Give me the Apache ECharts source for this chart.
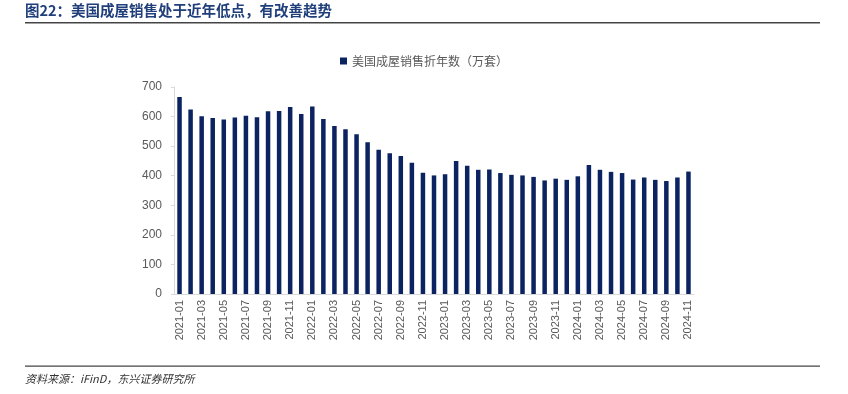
<!DOCTYPE html>
<html>
<head>
<meta charset="utf-8">
<script src="https://cdn.jsdelivr.net/npm/echarts@6/dist/echarts.min.js"></script>
<style>html,body{margin:0;padding:0;background:#fff;}#c{width:848px;height:394px;}</style>
</head>
<body>
<div id="c"></div>
<script>
const categories = [];
for (let y = 2021; y <= 2024; y++) {
  for (let m = 1; m <= 12; m++) {
    if (y === 2024 && m > 11) break;
    categories.push(y + '-' + (m < 10 ? '0' + m : m));
  }
}
const seriesName = '美国成屋销售折年数（万套）';
const salesValues = [
  666, 624, 601, 595, 590, 597, 603, 598, 618, 619, 632, 609,
  634, 592, 568, 557, 540, 513, 488, 476, 467, 444, 410, 401,
  405, 450, 434, 420, 421, 409, 403, 401, 396, 384, 390, 386,
  398, 436, 420, 413, 409, 387, 394, 386, 382, 394, 414
];
const yTicks = { min: 0, max: 700, interval: 100 };

const chart = echarts.init(document.getElementById('c'), null, { renderer: 'canvas' });
chart.setOption({
  animation: false,
  backgroundColor: '#fff',
  textStyle: { fontFamily: '"Noto Sans CJK SC", "Liberation Sans", sans-serif' },
  graphic: [
    { type: 'text', left: 25, top: 3, style: { text: '图22：美国成屋销售处于近年低点，有改善趋势', fill: '#1F3E7A', font: 'bold 14.5px "Noto Sans CJK SC", sans-serif' } },
    { type: 'rect', shape: { x: 25, y: 22, width: 795, height: 1.5 }, style: { fill: '#444' } },
    { type: 'rect', shape: { x: 25, y: 365.5, width: 795, height: 1.2 }, style: { fill: '#444' } },
    { type: 'text', left: 25, top: 373, style: { text: '资料来源：iFinD，东兴证券研究所', fill: '#333', font: 'italic 11px "Noto Sans CJK SC", sans-serif' } }
  ],
  legend: {
    data: [seriesName],
    top: 50,
    left: 'center',
    icon: 'rect',
    itemWidth: 7,
    itemHeight: 7,
    itemGap: 4,
    textStyle: { color: '#595959', fontSize: 12 }
  },
  grid: { left: 174, right: 154, top: 87, bottom: 100 },
  xAxis: {
    type: 'category',
    data: categories,
    axisLine: { lineStyle: { color: '#d9d9d9' } },
    axisTick: { show: false },
    axisLabel: { rotate: 90, interval: 1, color: '#595959', fontSize: 11, margin: 6, fontFamily: '"Liberation Sans", Arial, sans-serif' }
  },
  yAxis: {
    type: 'value',
    min: yTicks.min, max: yTicks.max, interval: yTicks.interval,
    splitLine: { show: false },
    axisLine: { show: true, lineStyle: { color: '#d9d9d9' } },
    axisTick: { show: true, length: 3, lineStyle: { color: '#d9d9d9' } },
    axisLabel: { color: '#595959', fontSize: 12, margin: 12, fontFamily: '"Liberation Sans", Arial, sans-serif' }
  },
  series: [{
    name: seriesName,
    type: 'bar',
    data: salesValues,
    barWidth: 4.5,
    itemStyle: { color: '#0B2360' }
  }]
});
</script>
</body>
</html>
